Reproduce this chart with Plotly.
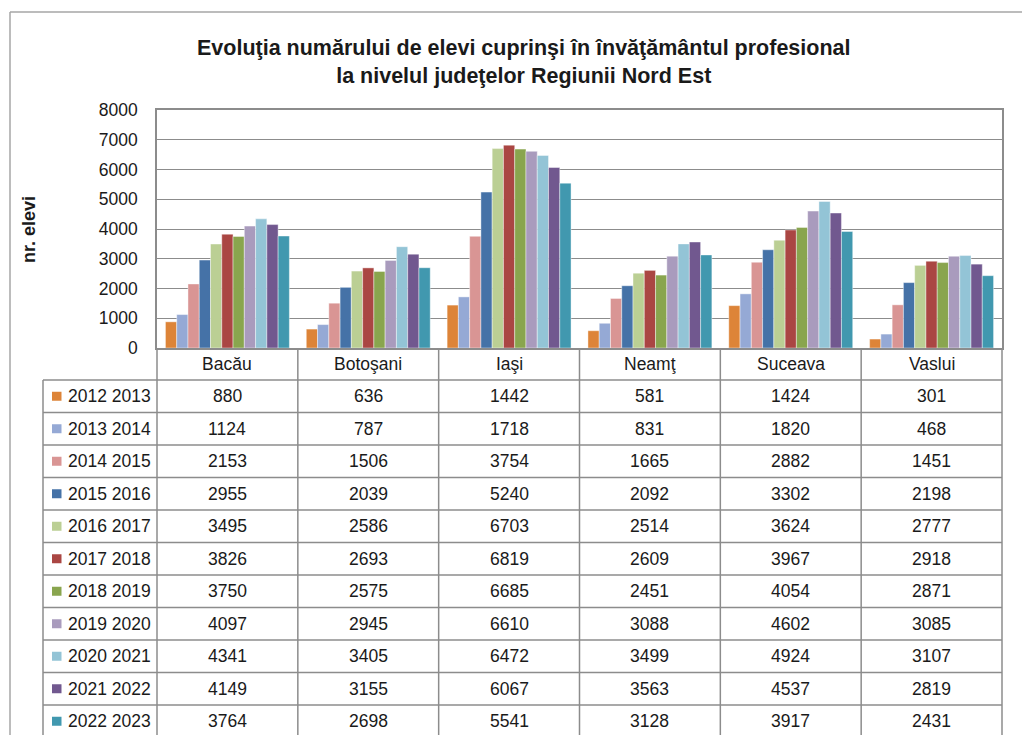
import plotly.graph_objects as go

categories = ["Bacău", "Botoşani", "Iaşi", "Neamţ", "Suceava", "Vaslui"]
series_names = ["2012 2013", "2013 2014", "2014 2015", "2015 2016", "2016 2017",
                "2017 2018", "2018 2019", "2019 2020", "2020 2021", "2021 2022", "2022 2023"]
v_2012_2013 = [880, 636, 1442, 581, 1424, 301]
v_2013_2014 = [1124, 787, 1718, 831, 1820, 468]
v_2014_2015 = [2153, 1506, 3754, 1665, 2882, 1451]
v_2015_2016 = [2955, 2039, 5240, 2092, 3302, 2198]
v_2016_2017 = [3495, 2586, 6703, 2514, 3624, 2777]
v_2017_2018 = [3826, 2693, 6819, 2609, 3967, 2918]
v_2018_2019 = [3750, 2575, 6685, 2451, 4054, 2871]
v_2019_2020 = [4097, 2945, 6610, 3088, 4602, 3085]
v_2020_2021 = [4341, 3405, 6472, 3499, 4924, 3107]
v_2021_2022 = [4149, 3155, 6067, 3563, 4537, 2819]
v_2022_2023 = [3764, 2698, 5541, 3128, 3917, 2431]
series_values = [v_2012_2013, v_2013_2014, v_2014_2015, v_2015_2016, v_2016_2017,
                 v_2017_2018, v_2018_2019, v_2019_2020, v_2020_2021, v_2021_2022, v_2022_2023]
colors = ["#DD8438", "#95A9D5", "#D99594", "#4572A7", "#BBCF94", "#AA4643",
          "#89A54E", "#A99BBD", "#93C4D6", "#71588F", "#4198AF"]
y_ticks = [0, 1000, 2000, 3000, 4000, 5000, 6000, 7000, 8000]
title_text = ("<b>Evoluţia numărului de elevi cuprinşi în învăţământul profesional<br>"
              "la nivelul judeţelor Regiunii Nord Est</b>")

FONT = "Liberation Sans, Arial, sans-serif"
OFF = 8  # page body margin
W, H = 1030 - OFF, 735 - OFF
ML, MR, MT, MB = 157 - OFF, 28, 110 - OFF, 387
PW = W - ML - MR
PH = H - MT - MB
GRID = "#8C8C8C"
TXT = "#1A1A1A"

fig = go.Figure()
for name, vals, col in zip(series_names, series_values, colors):
    fig.add_trace(go.Bar(x=categories, y=vals, name=name,
                         marker=dict(color=col, line=dict(color="rgba(255,255,255,0.7)", width=0.6)),
                         showlegend=False))


def py2paper(py):
    # py: page pixel y
    return (H - MB - (py - OFF)) / PH


def px2paper(px):
    # px: page pixel x
    return ((px - OFF) - ML) / PW


shapes = []
annotations = []
line_style = dict(color=GRID, width=1.5)

header_top = 348
header_h = 32
row_top0 = header_top + header_h
row_h = 32.5
n_rows = len(series_names)
table_bottom = row_top0 + n_rows * row_h
leg_left = 43
ncat = len(categories)

# horizontal table lines
for i in range(n_rows + 1):
    y = py2paper(row_top0 + i * row_h)
    shapes.append(dict(type="line", xref="paper", yref="paper", x0=px2paper(leg_left), x1=1,
                       y0=y, y1=y, line=line_style))
# vertical lines
shapes.append(dict(type="line", xref="paper", yref="paper", x0=px2paper(leg_left), x1=px2paper(leg_left),
                   y0=py2paper(row_top0), y1=py2paper(table_bottom), line=line_style))
for k in range(ncat + 1):
    x = k / ncat
    shapes.append(dict(type="line", xref="paper", yref="paper", x0=x, x1=x,
                       y0=0, y1=py2paper(table_bottom), line=line_style))

# header row: category names
for c in categories:
    annotations.append(dict(x=c, xref="x", y=py2paper(header_top + header_h / 2), yref="paper",
                            text=c, showarrow=False, xanchor="center", yanchor="middle",
                            font=dict(family=FONT, size=17.5, color=TXT)))

# data rows
for i, (name, vals, col) in enumerate(zip(series_names, series_values, colors)):
    yc = row_top0 + i * row_h + row_h / 2
    for c, v in zip(categories, vals):
        annotations.append(dict(x=c, xref="x", y=py2paper(yc), yref="paper",
                                text=str(v), showarrow=False, xanchor="center", yanchor="middle",
                                font=dict(family=FONT, size=17.5, color=TXT)))
    annotations.append(dict(x=px2paper(66), xref="paper", y=py2paper(yc), yref="paper",
                            text=name, showarrow=False, xanchor="left", yanchor="middle",
                            font=dict(family=FONT, size=17.5, color=TXT)))
    shapes.append(dict(type="rect", xref="paper", yref="paper",
                       x0=px2paper(52), x1=px2paper(61.5),
                       y0=py2paper(yc + 4.5), y1=py2paper(yc - 4.5),
                       fillcolor=col, line=dict(width=0)))

# outer chart border (left and top)
shapes.append(dict(type="line", xref="paper", yref="paper", x0=px2paper(10), x1=px2paper(10),
                   y0=py2paper(12), y1=py2paper(H + OFF + 5), line=dict(color="#A6A6A6", width=1.5)))
shapes.append(dict(type="line", xref="paper", yref="paper", x0=px2paper(10), x1=px2paper(W + OFF + 5),
                   y0=py2paper(12), y1=py2paper(12), line=dict(color="#A6A6A6", width=1.5)))

# y-axis title
annotations.append(dict(x=px2paper(29), xref="paper", y=py2paper(230), yref="paper",
                        text="<b>nr. elevi</b>", textangle=-90, showarrow=False,
                        xanchor="center", yanchor="middle",
                        font=dict(family=FONT, size=18, color=TXT)))

# chart title
annotations.append(dict(x=px2paper(524), xref="paper", y=py2paper(62), yref="paper",
                        text=title_text, showarrow=False, xanchor="center", yanchor="middle",
                        align="center", font=dict(family=FONT, size=21.5, color=TXT)))

fig.update_layout(
    width=W, height=H,
    margin=dict(l=ML, r=MR, t=MT, b=MB, pad=0),
    paper_bgcolor="white", plot_bgcolor="white",
    barmode="group", bargap=0.12, bargroupgap=0,
    xaxis=dict(showticklabels=False, showgrid=False, zeroline=False, showline=True,
               linecolor=GRID, linewidth=1.5, mirror=True, ticks=""),
    yaxis=dict(range=[0, 8000], tickvals=y_ticks, showgrid=True, gridcolor=GRID, gridwidth=1.2,
               zeroline=False, showline=True, linecolor=GRID, linewidth=1.5, mirror=True,
               ticks="", ticklen=0, tickfont=dict(family=FONT, size=17.5, color=TXT)),
    shapes=shapes, annotations=annotations,
)
fig.update_yaxes(ticklabelstandoff=14)

fig.write_html("out.html")
